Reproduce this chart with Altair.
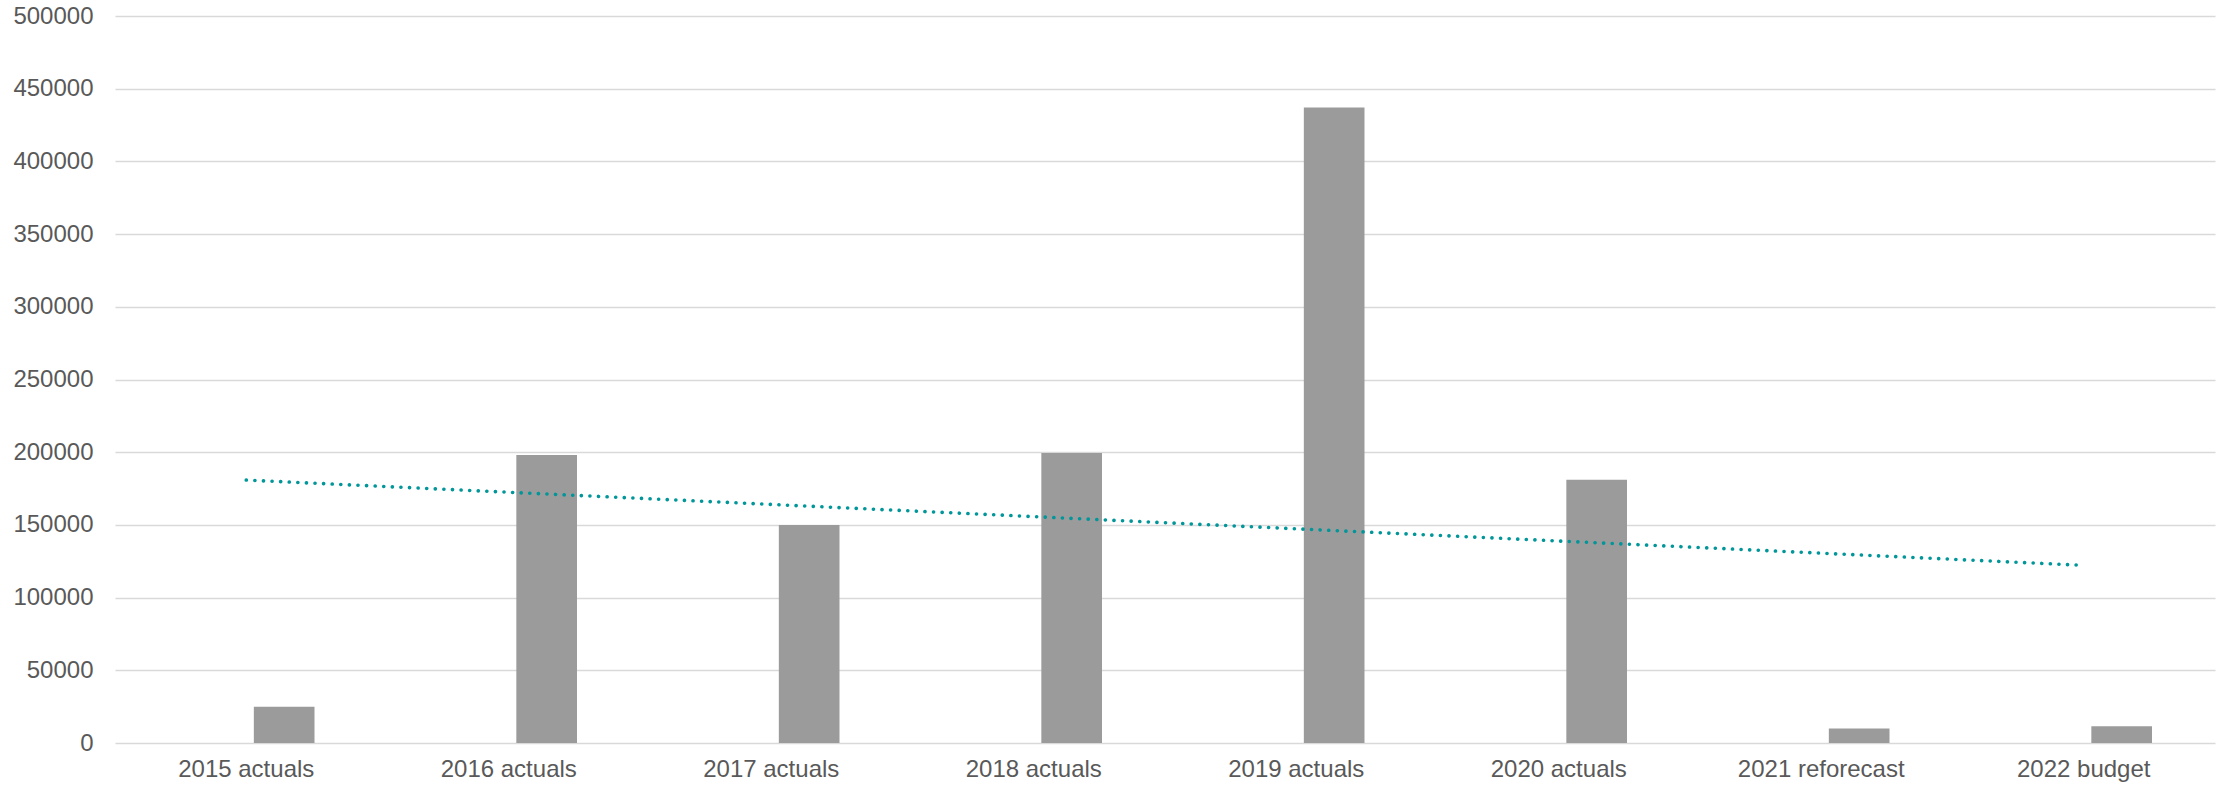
import altair as alt
import pandas as pd

# Annual totals by period
categories = [
    "2015 actuals", "2016 actuals", "2017 actuals", "2018 actuals",
    "2019 actuals", "2020 actuals", "2021 reforecast", "2022 budget",
]
values = [25000, 198000, 150000, 199500, 437000, 181000, 10000, 11500]
y_ticks = [0, 50000, 100000, 150000, 200000, 250000, 300000, 350000, 400000, 450000, 500000]

df = pd.DataFrame({
    "period": categories,
    "value": values,
    "idx": list(range(1, len(categories) + 1)),
    "series": ["value"] * len(categories),
})

FONT = "Liberation Sans"
LABEL = "#595959"
GRID = "#d9d9d9"

x_enc = alt.X(
    "period:N",
    sort=categories,
    scale=alt.Scale(domain=categories, paddingInner=0.48, paddingOuter=0.24),
    axis=alt.Axis(
        title=None, labelAngle=0, labelFont=FONT, labelFontSize=24,
        labelColor=LABEL, labelPadding=14, ticks=False, domain=False, grid=False,
    ),
)

y_scale = alt.Scale(domain=[0, 500000], nice=False)

bars = alt.Chart(df).mark_bar(color="#9b9b9b").encode(
    x=x_enc,
    # empty first slot of each cluster, value series drawn in the second
    xOffset=alt.XOffset(
        "series:N",
        scale=alt.Scale(domain=["", "value"], paddingInner=0.2, paddingOuter=0),
    ),
    y=alt.Y(
        "value:Q",
        scale=y_scale,
        axis=alt.Axis(
            title=None, values=y_ticks, format="d", labelFont=FONT,
            labelFontSize=24, labelColor=LABEL, labelPadding=22, ticks=False,
            domain=False, grid=True, gridColor=GRID, gridWidth=1.5,
        ),
    ),
)

# Linear trend fitted over the period index, mapped back to period names
period_lookup = "[" + ",".join(f"'{c}'" for c in categories) + "][datum.idx - 1]"
trend = (
    alt.Chart(df)
    .transform_regression("idx", "value", method="linear", extent=[1, len(categories)])
    .transform_calculate(period=period_lookup)
    .mark_line(color="#00969a", strokeWidth=3.6, strokeDash=[0.1, 8.5], strokeCap="round")
    .encode(
        x=alt.X("period:N", sort=categories),
        y=alt.Y("value:Q", scale=y_scale),
    )
)

chart = (
    alt.layer(bars, trend)
    .properties(
        width=2100, height=727,
        background="white",
        autosize=alt.AutoSizeParams(type="none"),
        padding={"left": 115, "top": 16, "right": 9, "bottom": 42},
    )
    .configure_view(stroke=None, strokeWidth=0)
    .configure_axis(domain=False)
)

chart.save("out.html", embed_options={"renderer": "svg", "actions": False})
